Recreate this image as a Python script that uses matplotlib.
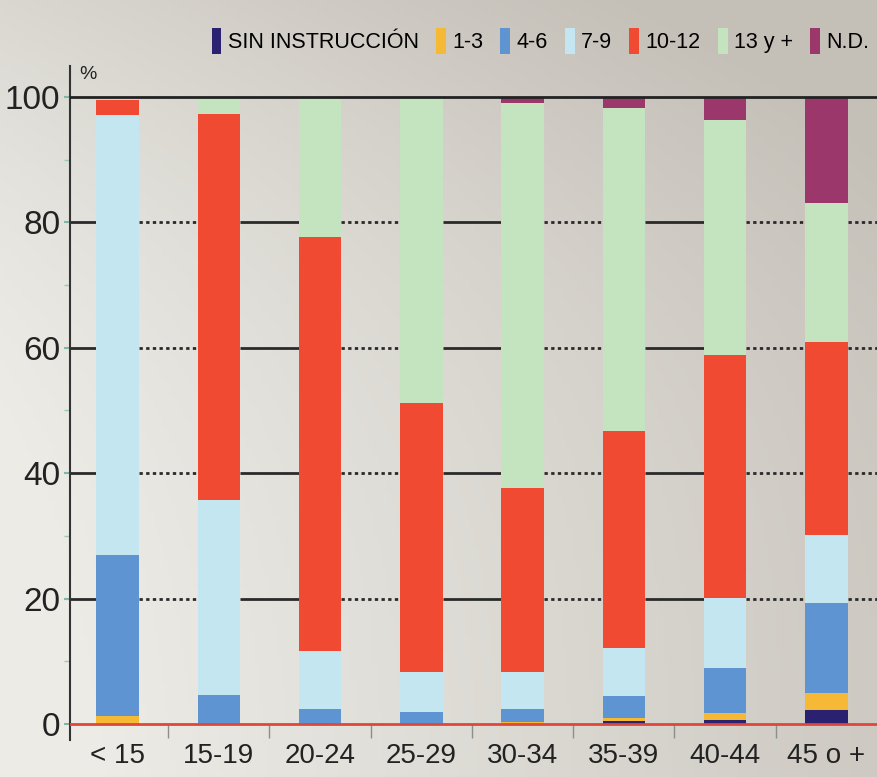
import numpy as np
import matplotlib.pyplot as plt
from matplotlib.patches import Patch

plt.rcParams['font.family'] = ['Liberation Sans', 'DejaVu Sans']

# age groups and education level shares (%)
grupos = ['< 15', '15-19', '20-24', '25-29', '30-34', '35-39', '40-44', '45 o +']
niveles = ['SIN INSTRUCCIÓN', '1-3', '4-6', '7-9', '10-12', '13 y +', 'N.D.']

sin_instr = [0.0, 0.0, 0.0, 0.0, 0.0, 0.5, 0.6, 2.3]
n1_3 = [1.3, 0.0, 0.0, 0.0, 0.3, 0.4, 1.2, 2.7]
n4_6 = [25.7, 4.6, 2.4, 1.9, 2.1, 3.6, 7.2, 14.3]
n7_9 = [70.1, 31.1, 9.2, 6.4, 5.9, 7.6, 11.1, 10.8]
n10_12 = [2.4, 61.6, 66.1, 42.9, 29.3, 34.6, 38.8, 30.8]
n13 = [0.5, 2.7, 22.3, 48.8, 61.4, 51.5, 37.4, 22.2]
nd = [0.0, 0.0, 0.0, 0.0, 1.0, 1.8, 3.7, 16.9]

series = [sin_instr, n1_3, n4_6, n7_9, n10_12, n13, nd]
colores = ['#2a2170', '#f6b935', '#5f94d2', '#c3e6f0', '#f04b32', '#c4e4c0', '#9b376b']

fig = plt.figure(figsize=(8.78, 7.77), dpi=100)

# background gradient
bg = fig.add_axes([0, 0, 1, 1], zorder=-10)
xx, yy = np.meshgrid(np.linspace(0, 1, 200), np.linspace(0, 1, 200))
t = np.clip(0.75 * xx + 0.45 * (1 - yy) ** 3 - 0.1 * (1 - xx) * yy, 0, 1)
light = np.array([236, 235, 230]) / 255
dark = np.array([196, 191, 183]) / 255
img = light * (1 - t[..., None]) + dark * t[..., None]
bg.imshow(img, aspect='auto', extent=[0, 1, 0, 1])
bg.axis('off')

ax = fig.add_axes([0.0797, 0.048, 0.9203, 0.8676])
ax.patch.set_alpha(0)

x = np.arange(len(grupos))
ancho = 0.42
bottom = np.zeros(len(grupos))
for vals, col in zip(series, colores):
    ax.bar(x, vals, ancho, bottom=bottom, color=col, zorder=3)
    bottom += np.array(vals)

ax.set_xlim(-0.47, 7.51)
ax.set_ylim(-2.5, 105)

# grid lines in the gaps between bars, alternating solid / dotted
edges = [ax.get_xlim()[0]] + [i + ancho / 2 for i in x]
ends = [i - ancho / 2 for i in x] + [ax.get_xlim()[1]]
for k, (a, b) in enumerate(zip(edges, ends)):
    estilo = '-' if k % 2 == 0 and k != 8 else (0, (1.2, 1.2))
    for yv in [20, 40, 60, 80]:
        ax.plot([a, b], [yv, yv], color='#2a2a2a', lw=2.0,
                linestyle=estilo, zorder=2, solid_capstyle='butt')
ax.axhline(100, color='#222222', lw=2, zorder=4)
ax.axhline(0, color='#e0463a', lw=2, zorder=4)

ax.spines['top'].set_visible(False)
ax.spines['right'].set_visible(False)
ax.spines['bottom'].set_position(('data', 0))
ax.spines['bottom'].set_visible(False)
ax.spines['left'].set_color('#333333')
ax.spines['left'].set_linewidth(1.5)

ax.set_yticks([0, 20, 40, 60, 80, 100])
ax.set_yticks(range(10, 100, 20), minor=True)
ax.tick_params(axis='y', which='major', length=4, width=1.5, color='#7fb8a8',
               labelsize=24, pad=3, labelcolor='#222222')
ax.tick_params(axis='y', which='minor', length=4, width=1, color='#9cc8b8')

ax.set_xticks(x)
ax.set_xticklabels(grupos)
ax.set_xticks(x[:-1] + 0.5, minor=True)
ax.tick_params(axis='x', which='major', length=0, labelsize=20, pad=14, labelcolor='#222222')
ax.tick_params(axis='x', which='minor', length=10, width=1, color='#8a8f8a', direction='out')

ax.text(0.012, 1.0, '%', transform=ax.transAxes, fontsize=14, color='#222222', va='top')

handles = [Patch(facecolor=c, edgecolor='none') for c in colores]
fig.legend(handles, niveles, loc='upper right', bbox_to_anchor=(1.0, 0.975), ncol=7,
           frameon=False, fontsize=15.5, handlelength=0.45, handleheight=1.5,
           handletextpad=0.3, columnspacing=0.8, borderaxespad=0)

plt.savefig('out.png', dpi=100)
